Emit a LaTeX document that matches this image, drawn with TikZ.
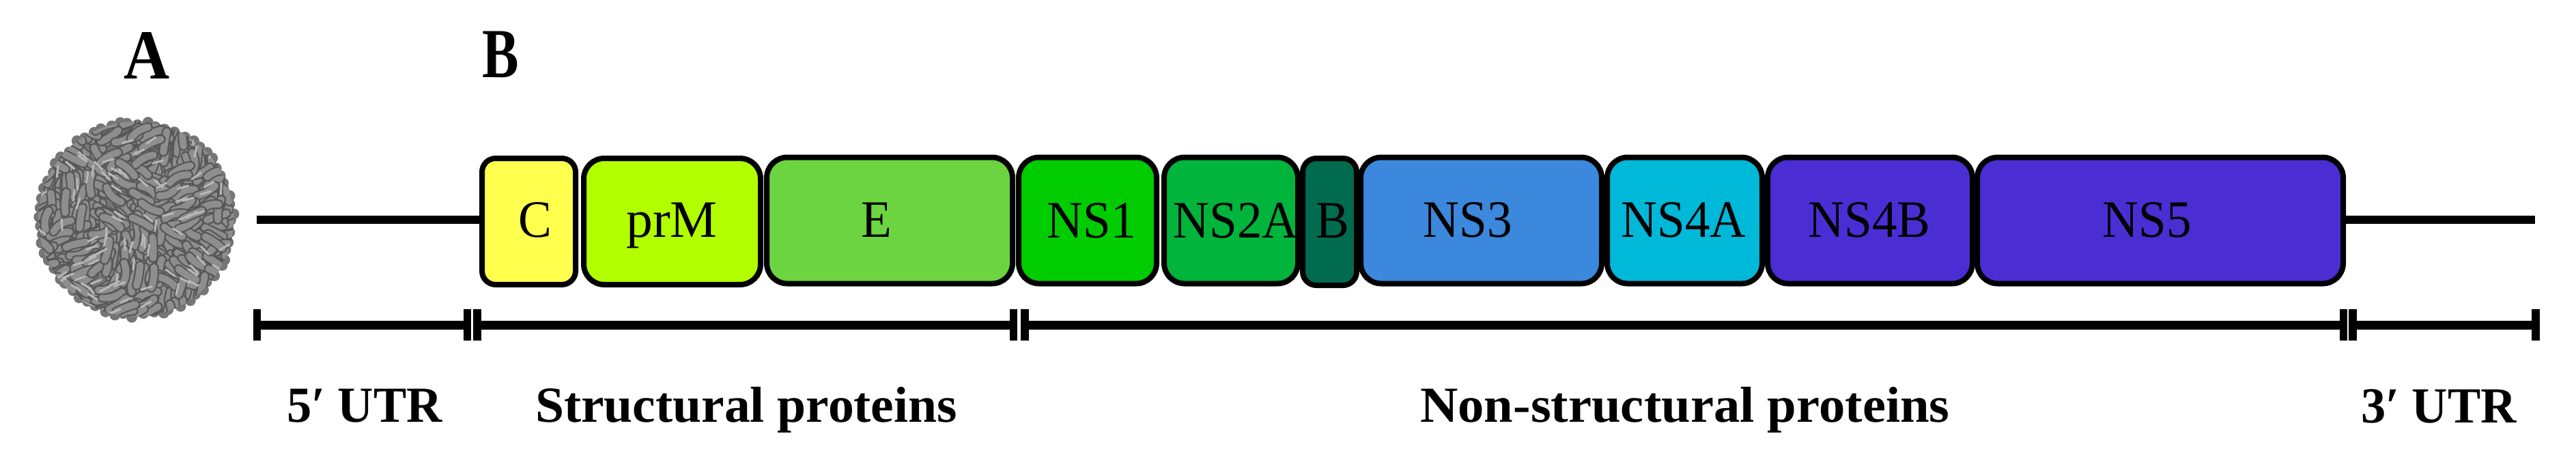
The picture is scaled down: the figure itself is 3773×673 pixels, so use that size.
\documentclass[tikz,border=0pt]{standalone}
\usepackage{fontspec}
\setmainfont[FakeStretch=0.95]{Liberation Serif}
\definecolor{cC}{HTML}{FFFF4D}
\definecolor{cprM}{HTML}{B2FF00}
\definecolor{cE}{HTML}{6CD440}
\definecolor{cNSa}{HTML}{00CC00}
\definecolor{cNSb}{HTML}{00B43C}
\definecolor{cNSc}{HTML}{006B4F}
\definecolor{cNSd}{HTML}{3B88DC}
\definecolor{cNSe}{HTML}{00B8D8}
\definecolor{cNSf}{HTML}{4B2DD4}
\definecolor{vbase}{HTML}{767676}
\definecolor{vdark}{HTML}{585858}
\definecolor{vmid}{HTML}{8E8E8E}
\definecolor{vlight}{HTML}{B8B8B8}
\tikzset{
  genebox/.style={draw=black,line width=1.6pt,rounded corners=6pt,inner sep=0pt,outer sep=0pt},
  smallbox/.style={genebox,rounded corners=4pt},
  genelabel/.style={inner sep=0pt,anchor=base,font=\fontsize{15.4pt}{18pt}\selectfont},
  spanlabel/.style={inner sep=0pt,anchor=base,font=\fontsize{14.8pt}{18pt}\selectfont\bfseries},
  panel/.style={inner sep=0pt,anchor=base,font=\fontsize{20.6pt}{24pt}\selectfont\bfseries},
  rna/.style={line width=2.5pt},
  spanline/.style={line width=2.6pt},
  tickmark/.style={fill=black,draw=none,inner sep=0pt,outer sep=0pt,minimum width=2.3pt,minimum height=9.3pt},
}
\begin{document}
\begin{tikzpicture}[x=0.2pt,y=-0.2pt]
\useasboundingbox (0,0) rectangle (3773,673);
% virus
\begin{scope}
  \pgfmathsetseed{4711}
  \foreach \i in {1,...,64}{
    \pgfmathsetmacro{\ang}{\i*5.625+rnd*3}
    \pgfmathsetmacro{\rr}{138+rnd*6}
    \fill[vbase] (199,321) ++(\ang:\rr) circle[radius=1.6pt];
  }
  \fill[vbase] (199,321) circle[radius=28.4pt];
  \clip (199,321) circle[radius=28.6pt];
  \foreach \i in {1,...,620}{
    \pgfmathsetmacro{\px}{55+rnd*288}
    \pgfmathsetmacro{\py}{177+rnd*288}
    \pgfmathsetmacro{\dir}{mod(floor((\px+20)/85)*2+floor((\py+10)/85),3)*60-35+rnd*22}
    \pgfmathsetmacro{\bend}{-30+rnd*60}
    \draw[vdark,line width=2.9pt,line cap=round] (\px,\py) ++(\dir:-15) to[bend left=\bend] ++(\dir:30);
    \draw[vmid,line width=2pt,line cap=round] (\px,\py) ++(\dir:-15) to[bend left=\bend] ++(\dir:30);
  }
  \foreach \i in {1,...,110}{
    \pgfmathsetmacro{\px}{55+rnd*288}
    \pgfmathsetmacro{\py}{177+rnd*288}
    \pgfmathsetmacro{\dir}{mod(floor((\px+20)/85)*2+floor((\py+10)/85),3)*60-35+rnd*22}
    \draw[vlight,line width=0.6pt,line cap=round] (\px,\py) ++(\dir:-8) -- ++(\dir:16);
  }
\end{scope}
% RNA line ends
\coordinate (fiveend) at (376,322);
\coordinate (threeend) at (3713,322);
% protein boxes
\node[smallbox,fill=cC,minimum width=27.4pt,minimum height=37pt] (C) at (774.5,324.5) {};
\node[genebox,fill=cprM,minimum width=51.8pt,minimum height=37pt] (prM) at (984.5,324.5) {};
\node[genebox,fill=cE,minimum width=72pt,minimum height=37pt] (E) at (1303,323) {};
\node[genebox,fill=cNSa,minimum width=40.4pt,minimum height=37pt] (NSone) at (1593,323) {};
\node[genebox,fill=cNSb,minimum width=39.2pt,minimum height=37pt] (NStwoA) at (1803,323) {};
\node[genebox,fill=cNSd,minimum width=70.6pt,minimum height=37pt] (NSthree) at (2169.5,323) {};
\node[genebox,fill=cNSe,minimum width=45.4pt,minimum height=37pt] (NSfourA) at (2467.5,323) {};
\node[genebox,fill=cNSf,minimum width=60pt,minimum height=37pt] (NSfourB) at (2739,323) {};
\node[genebox,fill=cNSf,minimum width=107.2pt,minimum height=37pt] (NSfive) at (3164,323) {};
\node[smallbox,fill=cNSc,minimum width=15.8pt,minimum height=37.2pt] (NStwoB) at (1947.5,325) {};
\draw[rna] (fiveend) -- (fiveend -| C.west);
\draw[rna] (threeend -| NSfive.east) -- (threeend);
% protein labels
\node[genelabel] (lC) at (784,347) {C};
\node[genelabel] (lprM) at (984,347) {\scalebox{1.06}[1]{prM}};
\node[genelabel] (lE) at (1284,347) {E};
\node[genelabel] (lNSone) at (1599,348) {NS1};
\node[genelabel] (lNStwoA) at (1810,348) {NS2A};
\node[genelabel] (lB) at (1952,348) {B};
\node[genelabel] (lNSthree) at (2150,347) {NS3};
\node[genelabel] (lNSfourA) at (2466,347) {NS4A};
\node[genelabel] (lNSfourB) at (2738,347) {NS4B};
\node[genelabel] (lNSfive) at (3145,347) {NS5};
% span ticks
\node[tickmark] (ta) at (376.5,476) {};
\node[tickmark] (tb) at (684.5,476) {};
\node[tickmark] (tc) at (699,476) {};
\node[tickmark] (td) at (1484.5,476) {};
\node[tickmark] (te) at (1501,476) {};
\node[tickmark] (tf) at (3432.5,476) {};
\node[tickmark] (tg) at (3446,476) {};
\node[tickmark] (th) at (3714,476) {};
\draw[spanline] (ta) -- (tb);
\draw[spanline] (tc) -- (td);
\draw[spanline] (te) -- (tf);
\draw[spanline] (tg) -- (th);
% span labels
\node[spanlabel] (lfive) at (534,618) {\scalebox{1.03}[1]{5′ UTR}};
\node[spanlabel] (lstruct) at (1093,618) {\scalebox{1.075}[1]{Structural proteins}};
\node[spanlabel] (lnon) at (2468,618) {\scalebox{1.09}[1]{Non-structural proteins}};
\node[spanlabel] (lthree) at (3572,619) {\scalebox{1.03}[1]{3′ UTR}};
% panel letters
\node[panel] (pA) at (215,115) {\scalebox{0.95}[1]{A}};
\node[panel] (pB) at (733,113) {\scalebox{0.82}[1]{B}};
\end{tikzpicture}
\end{document}
